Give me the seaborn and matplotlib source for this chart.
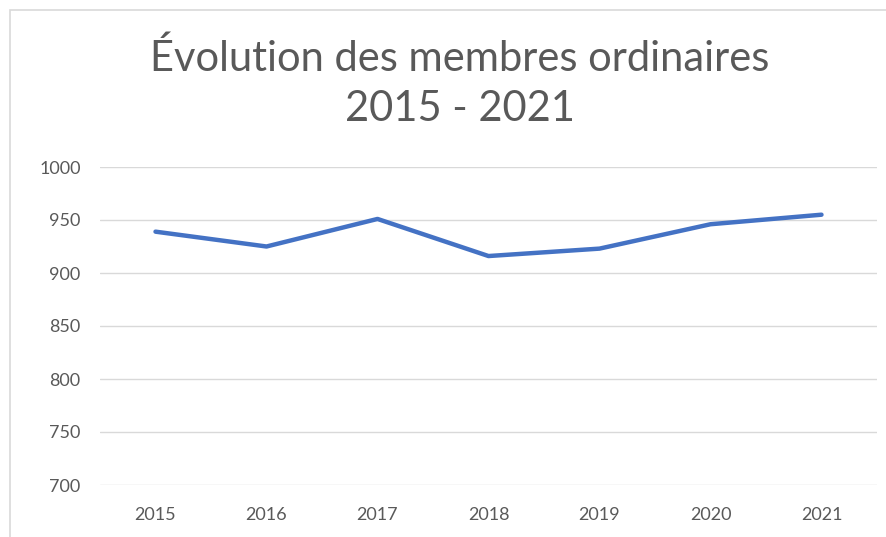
import pandas as pd
import matplotlib.pyplot as plt
import seaborn as sns
from matplotlib.patches import Rectangle

# data
years = ["2015", "2016", "2017", "2018", "2019", "2020", "2021"]
members = [939, 925, 951, 916, 923, 946, 955]
yticks = [700, 750, 800, 850, 900, 950, 1000]

df = pd.DataFrame({"year": years, "members": members})

sns.set_style("white")
plt.rcParams['font.family'] = ['Lato', 'DejaVu Sans']

fig = plt.figure(figsize=(8.86, 5.37), dpi=100)
ax = fig.add_axes([100 / 886, 1 - 485 / 537, 777 / 886, 318 / 537])

sns.lineplot(data=df, x="year", y="members", ax=ax, color="#4472C4",
             linewidth=3.2, sort=False, solid_capstyle="round")

ax.set_ylim(700, 1000)
ax.set_xlim(-0.5, len(years) - 0.5)
ax.set_yticks(yticks)
ax.grid(axis="y", color="#D9D9D9", linewidth=1)
ax.set_axisbelow(True)
for s in ax.spines.values():
    s.set_visible(False)
ax.tick_params(axis="both", length=0, labelsize=13, colors="#595959")
ax.tick_params(axis="y", pad=14)
ax.tick_params(axis="x", pad=16)
ax.set_xlabel("")
ax.set_ylabel("")

# title
fig.text(0.519, 1 - 58 / 537, "Évolution des membres ordinaires", ha="center", va="center",
         fontsize=30, color="#595959", fontweight="normal")
fig.text(0.519, 1 - 109 / 537, "2015 - 2021", ha="center", va="center",
         fontsize=30, color="#595959", fontweight="normal")

# chart frame border (cropped at right/bottom)
fig.add_artist(Rectangle((10 / 886, -0.1), 1.2, 1 - 10 / 537 + 0.1, transform=fig.transFigure,
                         fill=False, edgecolor="#D9D9D9", linewidth=1.2))

fig.savefig("out.png", dpi=100)
